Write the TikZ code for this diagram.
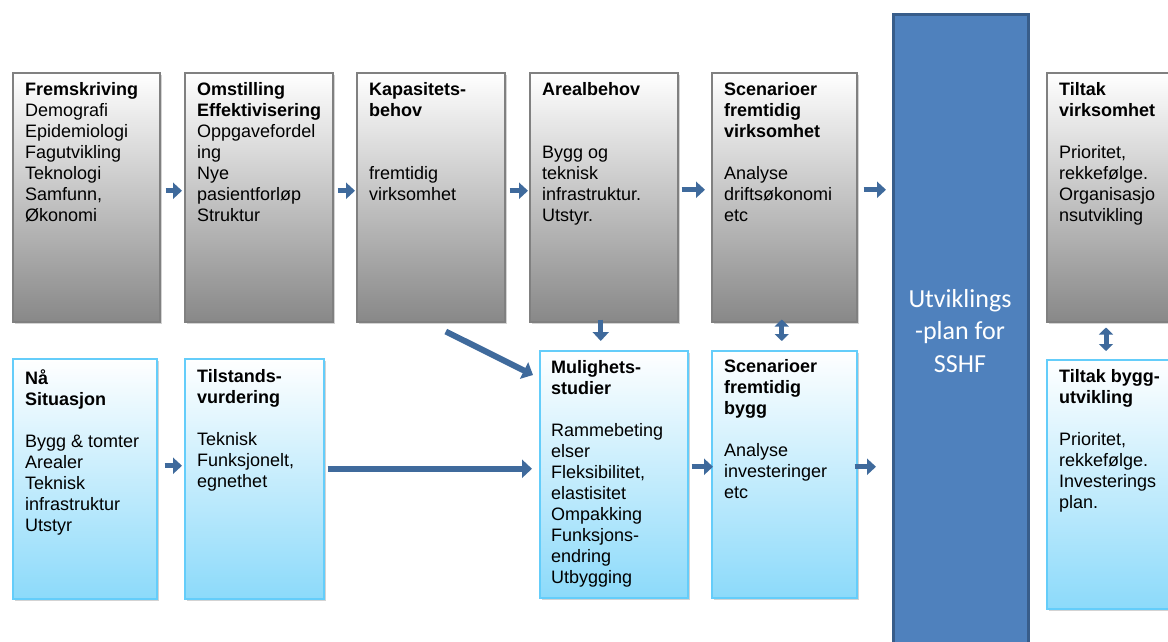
\documentclass[tikz,border=0pt]{standalone}
\usepackage{fontspec}
\setmainfont{Liberation Sans}
\newfontfamily\planfont{Carlito}
\usetikzlibrary{arrows.meta,shadows,calc}

\definecolor{arrowblue}{RGB}{63,106,156}
\definecolor{planfill}{RGB}{79,129,189}
\definecolor{planedge}{RGB}{56,93,138}
\definecolor{greyedge}{RGB}{128,128,128}
\definecolor{greybottom}{RGB}{136,136,136}
\definecolor{skyedge}{RGB}{100,205,250}
\definecolor{skybottom}{RGB}{140,218,250}

\tikzset{
  box/.style={draw, line width=1.5pt, anchor=north west, inner sep=0pt,
    drop shadow={shadow xshift=2.5pt, shadow yshift=-2.5pt, opacity=0.35}},
  greybox/.style={box, draw=greyedge, top color=white, bottom color=greybottom},
  skybox/.style={box, draw=skyedge, top color=white, bottom color=skybottom},
  boxtext/.style={anchor=north west, inner sep=0pt, align=left,
    font=\fontsize{18}{21}\selectfont},
  flow/.style={draw=arrowblue, line width=5pt, -{Triangle[length=9pt,width=16pt]}},
  bigflow/.style={draw=arrowblue, line width=6pt, -{Triangle[length=10pt,width=18pt]}},
  twoway/.style={draw=arrowblue, line width=5pt,
    {Triangle[length=7pt,width=14pt]}-{Triangle[length=7pt,width=14pt]}},
}

\begin{document}
\begin{tikzpicture}[x=1pt,y=-1pt]
\useasboundingbox (0,0) rectangle (1168,641);
\clip (0,0) rectangle (1168,641);

% central plan column
\node[draw=planedge, line width=3pt, fill=planfill, anchor=north west,
      minimum width=135pt, minimum height=660pt, inner sep=0pt] (plan) at (892,13) {};
\node[font=\planfont\fontsize{26}{32.5}\selectfont, text=white, align=center]
      (plant) at (960,331) {Utviklings\\-plan for\\SSHF};

% upper row: operations
\node[greybox, minimum width=147pt, minimum height=249pt] (f1) at (12,72) {};
\node[greybox, minimum width=148pt, minimum height=249pt] (f2) at (184,72) {};
\node[greybox, minimum width=148pt, minimum height=249pt] (f3) at (356,72) {};
\node[greybox, minimum width=148pt, minimum height=249pt] (f4) at (529,72) {};
\node[greybox, minimum width=145pt, minimum height=249pt] (f5) at (711,72) {};
\node[greybox, minimum width=150pt, minimum height=249pt] (t6) at (1046,72) {};

% lower row: buildings
\node[skybox, minimum width=144pt, minimum height=240pt] (n1) at (12,358) {};
\node[skybox, minimum width=139pt, minimum height=240pt] (n2) at (184,358) {};
\node[skybox, minimum width=148pt, minimum height=247pt] (m3) at (539,350) {};
\node[skybox, minimum width=145pt, minimum height=247pt] (s4) at (711,350) {};
\node[skybox, minimum width=150pt, minimum height=249pt] (t5) at (1046,359) {};

% box texts
\node[boxtext] (f1t) at ($(f1.north west)+(13,10)$)
  {\textbf{Fremskriving}\\Demografi\\Epidemiologi\\Fagutvikling\\Teknologi\\Samfunn,\\Økonomi};
\node[boxtext] (f2t) at ($(f2.north west)+(13,10)$)
  {\textbf{Omstilling}\\\textbf{Effektivisering}\\Oppgavefordel\\ing\\Nye\\pasientforløp\\Struktur};
\node[boxtext] (f3t) at ($(f3.north west)+(13,10)$)
  {\textbf{Kapasitets-}\\\textbf{behov}\\[42pt]fremtidig\\virksomhet};
\node[boxtext] (f4t) at ($(f4.north west)+(13,10)$)
  {\textbf{Arealbehov}\\[42pt]Bygg og\\teknisk\\infrastruktur.\\Utstyr.};
\node[boxtext] (f5t) at ($(f5.north west)+(13,10)$)
  {\textbf{Scenarioer}\\\textbf{fremtidig}\\\textbf{virksomhet}\\[21pt]Analyse\\driftsøkonomi\\etc};
\node[boxtext] (t6t) at ($(t6.north west)+(13,10)$)
  {\textbf{Tiltak}\\\textbf{virksomhet}\\[21pt]Prioritet,\\rekkefølge.\\Organisasjo\\nsutvikling};

\node[boxtext] (n1t) at ($(n1.north west)+(13,11)$)
  {\textbf{Nå}\\\textbf{Situasjon}\\[21pt]Bygg \& tomter\\Arealer\\Teknisk\\infrastruktur\\Utstyr};
\node[boxtext] (n2t) at ($(n2.north west)+(13,11)$)
  {\textbf{Tilstands-}\\\textbf{vurdering}\\[21pt]Teknisk\\Funksjonelt,\\egnethet};
\node[boxtext] (m3t) at ($(m3.north west)+(12,10)$)
  {\textbf{Mulighets-}\\\textbf{studier}\\[21pt]Rammebeting\\elser\\Fleksibilitet,\\elastisitet\\Ompakking\\Funksjons-\\endring\\Utbygging};
\node[boxtext] (s4t) at ($(s4.north west)+(13,9)$)
  {\textbf{Scenarioer}\\\textbf{fremtidig}\\\textbf{bygg}\\[21pt]Analyse\\investeringer\\etc};
\node[boxtext] (t5t) at ($(t5.north west)+(13,10)$)
  {\textbf{Tiltak bygg-}\\\textbf{utvikling}\\[21pt]Prioritet,\\rekkefølge.\\Investerings\\plan.};

% upper row flow
\draw[flow, shorten <=5pt, shorten >=2pt] ([yshift=6.5pt]f1.east) -- ([yshift=6.5pt]f1.east -| f2.west);
\draw[flow, shorten <=4pt, shorten >=1pt] ([yshift=6.5pt]f2.east) -- ([yshift=6.5pt]f2.east -| f3.west);
\draw[flow, shorten <=4pt, shorten >=1pt] ([yshift=6.5pt]f3.east) -- ([yshift=6.5pt]f3.east -| f4.west);
\draw[flow, shorten <=3pt, shorten >=6pt] ([yshift=7.5pt]f4.east) -- ([yshift=7.5pt]f4.east -| f5.west);
\draw[flow, shorten <=6pt, shorten >=6pt] ([yshift=7.5pt]f5.east) -- ([yshift=7.5pt]f5.east -| plan.west);

% lower row flow
\draw[flow, shorten <=7pt, shorten >=2pt] ([yshift=13pt]n1.east) -- ([yshift=13pt]n1.east -| n2.west);
\draw[bigflow, shorten <=3pt, shorten >=7pt] ([yshift=10pt]n2.east) -- ([yshift=10pt]n2.east -| m3.west);
\draw[flow, shorten <=3pt, shorten >=-2pt] ([yshift=7.5pt]m3.east) -- ([yshift=7.5pt]m3.east -| s4.west);
\draw[flow, shorten <=-3pt, shorten >=16pt] ([yshift=7.5pt]s4.east) -- ([yshift=7.5pt]s4.east -| plan.west);

% links between the rows
\draw[bigflow] ($(f3.south)+(15,9)$) -- ($(m3.north west)+(-6,25)$);
\draw[flow, shorten <=-3pt, shorten >=9pt] ([xshift=-3pt]f4.south) -- ([xshift=-3pt]f4.south |- m3.north);
\draw[twoway, shorten <=-3pt, shorten >=9pt] ([xshift=-2.5pt]f5.south) -- ([xshift=-2.5pt]f5.south |- s4.north);
\draw[twoway, shorten <=5pt, shorten >=8pt] ([xshift=60pt]t6.south west) -- ([xshift=60pt]t6.south west |- t5.north);
\end{tikzpicture}
\end{document}
